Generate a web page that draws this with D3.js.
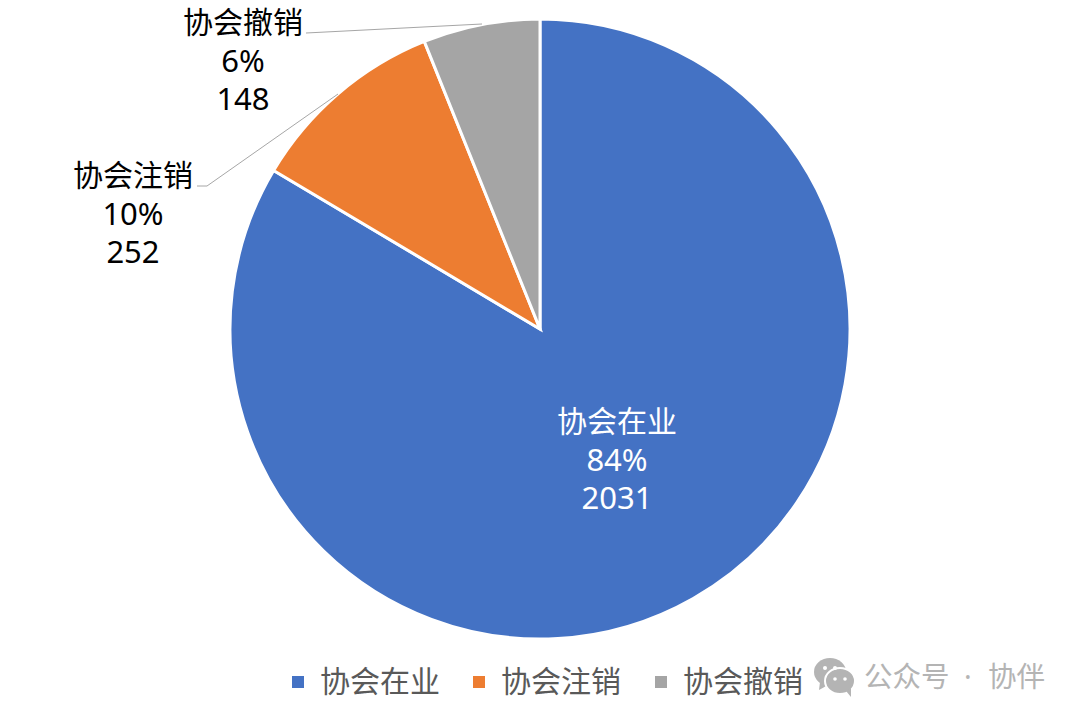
<!DOCTYPE html>
<html>
<head>
<meta charset="utf-8">
<script src="https://cdn.jsdelivr.net/npm/d3@7"></script>
<style>
  html, body { margin: 0; padding: 0; background: #fff; }
  text { font-family: "Noto Sans", "Noto Sans CJK SC", sans-serif; }
</style>
</head>
<body>
<div id="chart"></div>
<script>
const CATEGORIES = ['协会在业', '协会注销', '协会撤销'];
const VALUES = [2031, 252, 148];
const PERCENTS = ['84%', '10%', '6%'];
const COLOURS = ['#4472C4', '#ED7D31', '#A5A5A5'];

var width = 1080, height = 720;
var cx = 540, cy = 329, radius = 310;

var svg = d3.select('#chart').append('svg')
    .attr('width', width)
    .attr('height', height)
    .style('display', 'block');

// pie slices, clockwise from 12 o'clock
var pie = d3.pie().sort(null).value(function(d) { return d; });
var arc = d3.arc().innerRadius(0).outerRadius(radius);
var arcs = pie(VALUES);

var g = svg.append('g').attr('transform', 'translate(' + cx + ',' + cy + ')');
g.selectAll('path')
  .data(arcs)
  .enter()
  .append('path')
    .attr('d', arc)
    .attr('fill', function(d, i) { return COLOURS[i]; })
    .attr('stroke', '#fff')
    .attr('stroke-width', 3);

// leader lines
var leaders = [
  null,
  [[197, 186], [207, 186], [338, 94]],
  [[306, 33], [482, 24]]
];
var line = d3.line();
leaders.forEach(function(pts) {
  if (!pts) return;
  svg.append('path')
    .attr('d', line(pts))
    .attr('fill', 'none')
    .attr('stroke', '#A6A6A6')
    .attr('stroke-width', 1);
});

// data labels, digits run a little larger than the CJK text
var labelPos = [[617, 432, '#fff'], [133, 186, '#000'], [243, 33, '#000']];
labelPos.forEach(function(p, i) {
  var rows = [CATEGORIES[i], PERCENTS[i], VALUES[i]];
  rows.forEach(function(r, j) {
    svg.append('text')
      .attr('x', p[0])
      .attr('y', p[1] + j * 38.5)
      .attr('text-anchor', 'middle')
      .attr('font-size', j == 0 ? 30 : 31)
      .attr('fill', p[2])
      .text(r);
  });
});

// legend
var legendX = [292, 473, 655];
CATEGORIES.forEach(function(c, i) {
  svg.append('rect')
    .attr('x', legendX[i])
    .attr('y', 676)
    .attr('width', 12)
    .attr('height', 12)
    .attr('fill', COLOURS[i]);
  svg.append('text')
    .attr('x', legendX[i] + 28)
    .attr('y', 692)
    .attr('font-size', 30)
    .attr('fill', '#595959')
    .text(c);
});

// watermark
var icon = svg.append('g').attr('fill', '#B4B4B4');
icon.append('ellipse').attr('cx', 830).attr('cy', 672).attr('rx', 16).attr('ry', 14);
icon.append('path').attr('d', 'M820 682 L819 690 L828 685 Z');
icon.append('ellipse').attr('cx', 840).attr('cy', 681).attr('rx', 15).attr('ry', 13).attr('stroke', '#fff').attr('stroke-width', 2);
icon.append('path').attr('d', 'M846 691 L851 697 L851 688 Z');
[[825, 668], [835, 668]].forEach(function(p) {
  icon.append('circle').attr('cx', p[0]).attr('cy', p[1]).attr('r', 2).attr('fill', '#fff');
});
[[835, 679], [845, 679]].forEach(function(p) {
  icon.append('circle').attr('cx', p[0]).attr('cy', p[1]).attr('r', 1.8).attr('fill', '#fff');
});
[['公众号', 864], ['·', 964], ['协伴', 988]].forEach(function(w) {
  svg.append('text')
    .attr('x', w[1])
    .attr('y', 687)
    .attr('font-size', 28.5)
    .attr('fill', '#B4B4B4')
    .text(w[0]);
});
</script>
</body>
</html>
